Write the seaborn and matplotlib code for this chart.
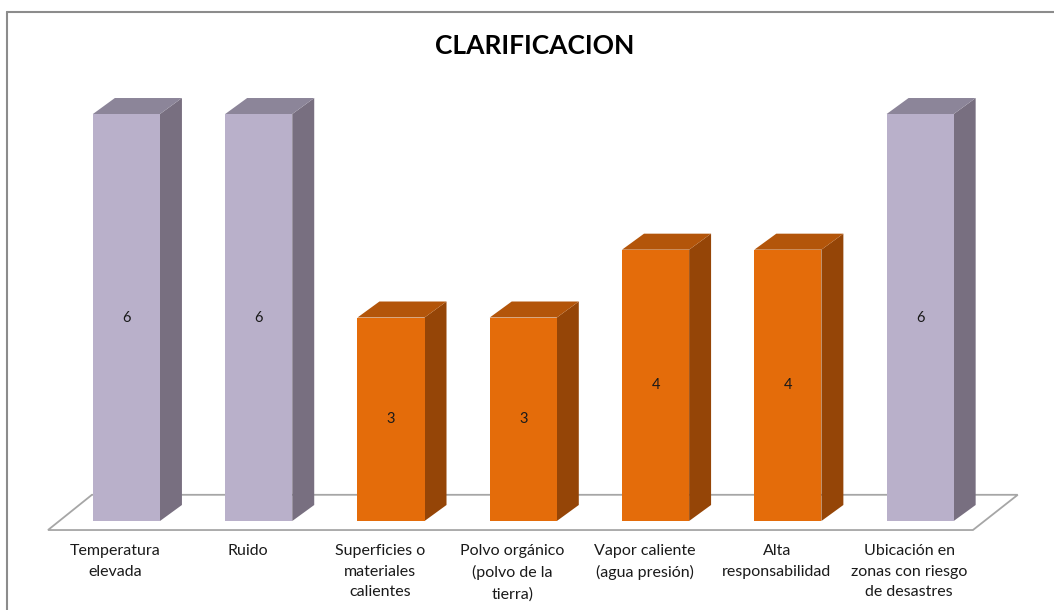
import numpy as np
import pandas as pd
import matplotlib.pyplot as plt
from matplotlib.patches import Polygon, Rectangle
from matplotlib.lines import Line2D
import seaborn as sns

categories = ["Temperatura\nelevada", "Ruido", "Superficies o\nmateriales\ncalientes",
              "Polvo orgánico\n(polvo de la\ntierra)", "Vapor caliente\n(agua presión)",
              "Alta\nresponsabilidad", "Ubicación en\nzonas con riesgo\nde desastres"]
values = [6, 6, 3, 3, 4, 4, 6]
groups = ["alto", "alto", "medio", "medio", "medio", "medio", "alto"]

# front / top / side shades for each group
palette_front = {"alto": "#B9B0CA", "medio": "#E46C0A"}
palette_top = {"alto": "#8C8599", "medio": "#B3550A"}
palette_side = {"alto": "#786F80", "medio": "#954507"}

df = pd.DataFrame({"cat": categories, "val": values, "grp": groups})

sns.set_style("white")
plt.rcParams['font.family'] = ['Lato', 'DejaVu Sans']

W, H = 1054, 610
fig = plt.figure(figsize=(W / 100, H / 100), dpi=100)
ax = fig.add_axes([60.3 / W, 10 / H, 926 / W, 580 / H])

sns.barplot(data=df, x="cat", y="val", hue="grp", palette=palette_front,
            width=0.507, dodge=False, legend=False, ax=ax, saturation=1,
            edgecolor="none", zorder=3)

ax.set_xlim(-0.5, 6.5)
ax.set_ylim(-(600 - 521) / 67.83, (521 - 20) / 67.83)
ax.axis("off")

bars = sorted([p for p in ax.patches if isinstance(p, Rectangle) and p.get_height() > 0],
              key=lambda p: p.get_x())

# 3D depth offset in data units
dx, dy = 0.166, 0.236

# floor
floor = Polygon([(-0.593, -0.133), (6.399, -0.133), (6.399 + 2 * dx * 1.02, -0.133 + 2.2 * dy),
                 (-0.593 + 2 * dx, -0.133 + 2.2 * dy)],
                closed=True, facecolor="white", edgecolor="#A6A6A6", lw=1.3, zorder=1,
                clip_on=False)
ax.add_patch(floor)

for p, g, v in zip(bars, groups, values):
    x0, w, h = p.get_x(), p.get_width(), p.get_height()
    side = Polygon([(x0 + w, 0), (x0 + w + dx, dy), (x0 + w + dx, h + dy), (x0 + w, h)],
                   closed=True, facecolor=palette_side[g], edgecolor="none", zorder=2.5)
    top = Polygon([(x0, h), (x0 + dx, h + dy), (x0 + w + dx, h + dy), (x0 + w, h)],
                  closed=True, facecolor=palette_top[g], edgecolor="none", zorder=2.5)
    ax.add_patch(side)
    ax.add_patch(top)
    ax.text(x0 + w / 2, h / 2, str(v), ha="center", va="center", fontsize=10.5,
            color="#1a1a1a", zorder=4)

for i, c in enumerate(categories):
    ax.text(i - dx / 2, -(544 - 521) / 67.83, c, ha="center", va="top", fontsize=11.5,
            color="#1a1a1a", linespacing=1.6)

fig.text(535 / W, 1 - 46 / H, "CLARIFICACION", ha="center", va="center",
         fontsize=19, fontweight="bold", color="black")

# outer chart frame
fig.add_artist(Line2D([6.5 / W, 6.5 / W], [0, 1 - 11.5 / H], transform=fig.transFigure,
                      color="#8C8C8C", lw=1.5))
fig.add_artist(Line2D([6.5 / W, 1], [1 - 11.5 / H, 1 - 11.5 / H], transform=fig.transFigure,
                      color="#8C8C8C", lw=1.5))

fig.savefig("out.png", dpi=100)
